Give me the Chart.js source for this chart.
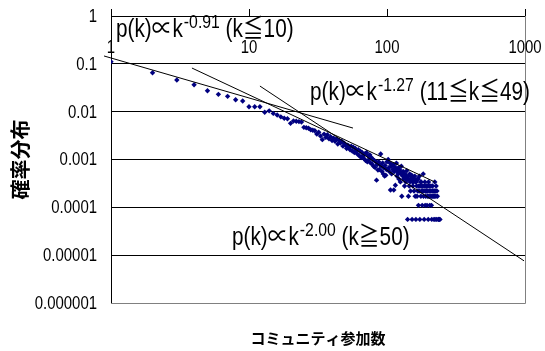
<!DOCTYPE html>
<html><head><meta charset="utf-8">
<script src="https://cdn.jsdelivr.net/npm/chart.js@4/dist/chart.umd.min.js"></script>
<style>html,body{margin:0;padding:0;background:#fff;}#wrap{width:545px;height:351px;}</style>
</head><body><div id="wrap"><canvas id="c" width="545" height="351"></canvas></div>
<script>
// community participation count k
const degrees = [1,2,3,4,5,6,7,8,9,10,11,12,13,14,15,16,17,18,19,20,
21,22,23,24,25,26,27,28,29,30,31,32,33,34,35,36,37,38,39,40,
41,42,43,44,45,46,47,48,49,50,51,52,53,54,55,56,57,58,59,60,
61,62,63,64,65,66,67,68,69,70,71,72,73,74,75,76,77,78,79,80,
81,82,83,84,85,86,87,88,89,90,91,92,93,94,95,96,97,98,99,100,
101,102,103,104,105,106,107,108,109,110,111,112,113,114,115,116,117,118,119,120,
121,122,123,124,125,126,127,128,129,130,131,132,133,134,135,136,137,138,139,140,
141,142,143,144,145,146,147,148,149,150,151,152,153,154,155,156,157,158,159,160,
161,162,163,164,165,166,167,168,169,170,171,172,173,174,175,176,177,178,179,180,
181,182,183,184,185,186,187,188,189,190,191,192,193,194,195,196,197,198,199,200,
201,202,203,204,205,206,208,209,210,211,212,213,214,216,217,219,220,221,222,223,
224,226,227,229,230,232,235,237,240,242];
// probability p(k)
const probabilities = [0.111,0.065,0.046,0.0366,0.0274,0.023,0.0209,0.0178,0.0167,0.0127,0.0127,0.0127,0.0097,0.0104,0.0092,0.0085,0.0078,0.0073,0.0071,0.0057,
0.0064,0.0063,0.0062,0.0061,0.0047,0.0046,0.0045,0.0042,0.0041,0.0040,0.0034,0.0037,0.0031,0.0026,0.0034,0.0029,0.0033,0.0027,0.0030,0.0025,
0.0028,0.0024,0.0027,0.0021,0.0025,0.0022,0.0024,0.0019,0.0022,0.0020,0.0017,0.0020,0.0018,0.0016,0.0019,0.0015,0.0018,0.0014,0.0017,0.0015,
0.0013,0.0016,0.0012,0.0015,0.0011,0.0014,0.0012,0.00105,0.0013,0.00095,0.0014,0.0009,0.0012,0.0010,0.00125,0.00085,0.0011,0.0008,0.0010,0.00072,
0.00095,0.00068,0.0009,0.00037,0.00078,0.0006,0.0009,0.00062,0.00078,0.0013,0.00072,0.00056,0.00085,0.0005,0.00067,0.00045,0.00075,0.00047,0.00062,0.0009,
0.00062,0.001,0.00067,0.00056,0.00084,0.00023,0.00072,0.0005,0.00078,0.00062,0.00078,0.00023,0.00056,0.0007,0.00029,0.00062,0.00084,0.00045,0.00056,0.0005,
0.00067,0.00039,0.00056,0.0006,0.00034,0.0005,0.00072,0.00017,0.0005,0.00045,0.00056,0.00039,0.00045,0.00028,0.0005,0.00039,0.00034,0.00045,0.00058,0.00039,
0.000056,0.00045,0.00017,0.00039,0.00028,0.0005,0.00034,0.00022,0.00045,0.00039,0.00047,0.000056,0.00034,0.00028,0.0004,0.00034,0.00022,0.00039,0.00045,0.00017,
0.00034,0.000056,0.00034,0.00028,0.00017,0.00039,0.00022,0.00039,0.00011,0.00028,0.00022,0.00045,0.000056,0.00028,0.00034,0.00017,0.00034,0.00022,0.00028,0.00011,
0.00022,0.00028,0.0005,0.00017,0.00022,0.000056,0.00028,0.00034,0.00011,0.00022,0.00017,0.00028,0.00022,0.00028,0.00011,0.00022,0.00017,0.00028,0.000056,0.00034,
0.00017,0.00022,0.00028,0.00011,0.00017,0.00022,0.00028,0.00017,0.00011,0.000056,0.00022,0.00017,0.00028,0.00022,0.00017,0.000056,0.00022,0.00017,0.00034,0.000056,
0.00022,0.00017,0.00028,0.000056,0.00022,0.00017,0.000056,0.000056,0.000056,0.000056];

// fitted power-law lines (end points)
const fitLowK = [0.89, 56.7];   const fitLowP = [0.146, 0.00454];
const fitMidK = [3.86, 223];    const fitMidP = [0.0817, 0.000337];
const fitHighK = [12.0, 984];   const fitHighP = [0.0343, 0.0000076];

const xTickValues = [1, 10, 100, 1000];
const xTickLabels = ['1', '10', '100', '1000'];
const yTickValues = [1, 0.1, 0.01, 0.001, 0.0001, 0.00001, 0.000001];
const yTickLabels = ['1', '0.1', '0.01', '0.001', '0.0001', '0.00001', '0.000001'];

const xTitle = 'コミュニティ参加数';
const yTitle = '確率分布';

const annotationBase = ['p(k)\u221Dk', 'p(k)\u221Dk', 'p(k)\u221Dk'];
const annotationSup = ['-0.91', '-1.27', '-2.00'];
const annotationTail = [' (k\u226610)', ' (11\u2266k\u226649)', ' (k\u226750)'];
const annotationK = [1.087, 27.7, 7.53];
const annotationP = [0.3637, 0.0175, 0.0000162];

const FONT = "'Liberation Sans', Arial, 'Noto Sans CJK JP', sans-serif";
const SQUEEZE = 0.83;

function pts(xs, ys) { return xs.map((x, i) => ({ x: x, y: ys[i] })); }

function squeezedText(ctx, text, x, y, font, align, baseline) {
  ctx.save();
  ctx.font = font;
  ctx.textAlign = align;
  ctx.textBaseline = baseline;
  ctx.translate(x, y);
  ctx.scale(SQUEEZE, 1);
  ctx.fillText(text, 0, 0);
  const w = ctx.measureText(text).width * SQUEEZE;
  ctx.restore();
  return w;
}

const frame = {
  id: 'frame',
  beforeDatasetsDraw(chart) {
    const a = chart.chartArea, ctx = chart.ctx;
    ctx.save();
    ctx.strokeStyle = '#808080';
    ctx.lineWidth = 1;
    ctx.beginPath();
    ctx.moveTo(Math.round(a.right) + 0.5, Math.round(a.top));
    ctx.lineTo(Math.round(a.right) + 0.5, Math.round(a.bottom) + 0.5);
    ctx.lineTo(Math.round(a.left), Math.round(a.bottom) + 0.5);
    ctx.stroke();
    ctx.restore();
  }
};

const tickText = {
  id: 'tickText',
  afterDraw(chart) {
    const ctx = chart.ctx, xs = chart.scales.x, ys = chart.scales.y;
    ctx.save();
    ctx.fillStyle = '#000';
    yTickValues.forEach((v, i) => {
      squeezedText(ctx, yTickLabels[i], ys.right - 14, ys.getPixelForValue(v) + 1, '18px ' + FONT, 'right', 'middle');
    });
    xTickValues.forEach((v, i) => {
      squeezedText(ctx, xTickLabels[i], xs.getPixelForValue(v), xs.bottom + 32, '18px ' + FONT, 'center', 'middle');
    });
    ctx.restore();
  }
};

const notes = {
  id: 'notes',
  afterDraw(chart) {
    const ctx = chart.ctx, xs = chart.scales.x, ys = chart.scales.y;
    ctx.save();
    ctx.fillStyle = '#000';
    for (let i = 0; i < annotationBase.length; i++) {
      let x = xs.getPixelForValue(annotationK[i]);
      const y = ys.getPixelForValue(annotationP[i]);
      x += squeezedText(ctx, annotationBase[i], x, y, '25px ' + FONT, 'left', 'alphabetic') + 1;
      x += squeezedText(ctx, annotationSup[i], x, y - 9, '19px ' + FONT, 'left', 'alphabetic');
      squeezedText(ctx, annotationTail[i], x, y, '25px ' + FONT, 'left', 'alphabetic');
    }
    ctx.restore();
  }
};

const lineStyle = { type: 'line', showLine: true, borderColor: '#000', borderWidth: 1, pointRadius: 0, fill: false, clip: false, tension: 0 };

new Chart(document.getElementById('c'), {
  type: 'scatter',
  data: {
    datasets: [
      Object.assign({ data: pts(fitLowK, fitLowP) }, lineStyle),
      Object.assign({ data: pts(fitMidK, fitMidP) }, lineStyle),
      Object.assign({ data: pts(fitHighK, fitHighP) }, lineStyle),
      { data: pts(degrees, probabilities), pointStyle: 'rectRot', pointRadius: 2.7, backgroundColor: '#000080', borderColor: '#000080', borderWidth: 0 }
    ]
  },
  options: {
    responsive: false,
    animation: false,
    layout: { padding: { left: 0, right: 20, top: 0, bottom: 0 } },
    plugins: {
      legend: { display: false },
      tooltip: { enabled: false },
      title: {
        display: true, position: 'bottom', fullSize: false, text: xTitle, color: '#000',
        font: { family: "'Noto Sans CJK JP'", size: 15, weight: 'bold', lineHeight: 1.2 },
        padding: { top: 26, bottom: 4 }
      }
    },
    scales: {
      x: {
        type: 'logarithmic', position: 'top', min: 1, max: 1000,
        afterBuildTicks: s => { s.ticks = xTickValues.map(v => ({ value: v })); },
        afterFit: s => { s.height = 16; },
        ticks: { display: false, autoSkip: false },
        grid: { drawOnChartArea: false, drawTicks: true, tickLength: 7, color: '#000' },
        border: { color: '#000', width: 1 }
      },
      y: {
        type: 'logarithmic', position: 'left', min: 0.000001, max: 1,
        afterBuildTicks: s => { s.ticks = yTickValues.map(v => ({ value: v })); },
        afterFit: s => { s.width = 111; },
        ticks: { display: false, autoSkip: false },
        grid: { drawOnChartArea: true, drawTicks: false, color: '#000', lineWidth: 1 },
        border: { color: '#000', width: 1 },
        title: {
          display: true, text: yTitle, color: '#000',
          font: { family: "'Noto Sans CJK JP'", size: 20, weight: 'bold', lineHeight: 1.2 },
          padding: { top: 8, bottom: 0 }
        }
      }
    }
  },
  plugins: [frame, tickText, notes]
});
</script>
</body></html>
